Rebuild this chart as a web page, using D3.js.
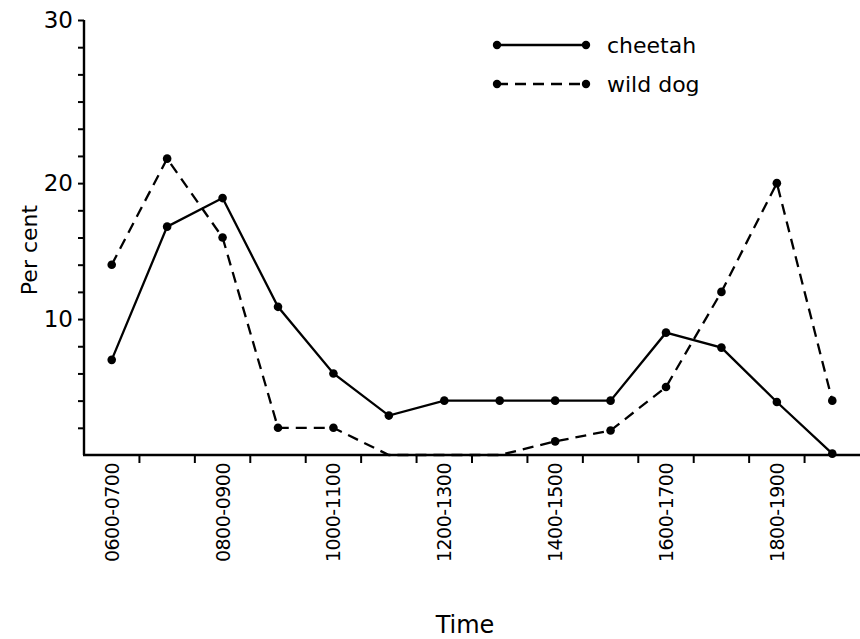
<!DOCTYPE html>
<html>
<head>
<meta charset="utf-8">
<script src="https://cdn.jsdelivr.net/npm/d3@7"></script>
<style>
  body { margin: 0; background: #fff; }
  text { font-family: "DejaVu Sans", sans-serif; fill: #000; }
</style>
</head>
<body>
<div id="graph"></div>
<script>
// Hourly activity, per cent of observations
const times = ["0600-0700", "0700-0800", "0800-0900", "0900-1000", "1000-1100", "1100-1200", "1200-1300",
               "1300-1400", "1400-1500", "1500-1600", "1600-1700", "1700-1800", "1800-1900", "1900-2000"];
const labelled = ["0600-0700", "0800-0900", "1000-1100", "1200-1300", "1400-1500", "1600-1700", "1800-1900"];
const cheetah = [7.0, 16.8, 18.9, 10.9, 6.0, 2.9, 4.0, 4.0, 4.0, 4.0, 9.0, 7.9, 3.9, 0.1];
const wildDog = [14.0, 21.8, 16.0, 2.0, 2.0, 0, 0, 0, 1.0, 1.8, 5.0, 12.0, 20.0, 4.0];
const yTicks = [2, 4, 6, 8, 10, 12, 14, 16, 18, 20, 22, 24, 26, 28, 30, 32];

const width = 860, height = 639;
const margin = {top: 20, right: 0, bottom: 184, left: 84};

let svg = d3.select("#graph")
    .append("svg")
    .attr("width", width)
    .attr("height", height);

let x = d3.scaleBand()
    .domain(times)
    .range([margin.left, width - margin.right]);

let y = d3.scaleLinear()
    .domain([0, 32])
    .range([height - margin.bottom, margin.top]);

let cx = function(d, i) { return x(times[i]) + x.bandwidth() / 2; };

// y axis (top tick carries the "30" label as drawn in the original)
let yAxis = svg.append("g")
    .attr("transform", `translate(${margin.left}, 0)`)
    .call(d3.axisLeft(y)
        .tickValues(yTicks)
        .tickSize(6)
        .tickPadding(5)
        .tickFormat(function(d) { return d === 10 || d === 20 ? d : d === 32 ? "30" : ""; }));
yAxis.select(".domain").attr("d", `M0,${y(0)}V${y(32)}`).attr("stroke-width", 2.4);
yAxis.selectAll("line").attr("stroke-width", 2);
yAxis.selectAll("text").style("font-size", "23px");

// x axis: ticks at the slot boundaries
let xAxis = svg.append("g")
    .attr("transform", `translate(0, ${y(0)})`);
xAxis.append("line")
    .attr("x1", margin.left - 1)
    .attr("x2", width)
    .attr("stroke", "#000")
    .attr("stroke-width", 2.4);
xAxis.selectAll(".tick")
    .data(times.slice(1))
    .enter()
    .append("line")
    .attr("x1", function(d) { return x(d); })
    .attr("x2", function(d) { return x(d); })
    .attr("y1", 0)
    .attr("y2", 8)
    .attr("stroke", "#000")
    .attr("stroke-width", 2);
xAxis.selectAll(".lbl")
    .data(labelled)
    .enter()
    .append("text")
    .attr("transform", function(d) { return `translate(${x(d) + x.bandwidth() / 2 + 7}, 8) rotate(-90)`; })
    .style("text-anchor", "end")
    .style("font-size", "19px")
    .style("letter-spacing", "-0.5px")
    .text(function(d) { return d; });

// axis titles
svg.append("text")
    .attr("transform", `translate(37, 250) rotate(-90)`)
    .style("text-anchor", "middle")
    .style("font-size", "22px")
    .text("Per cent");

svg.append("text")
    .attr("x", 465)
    .attr("y", 633)
    .style("text-anchor", "middle")
    .style("font-size", "24px")
    .text("Time");

// series
let line = d3.line()
    .x(cx)
    .y(function(d) { return y(d); });

let series = [
    {name: "cheetah", values: cheetah, dash: null},
    {name: "wild dog", values: wildDog, dash: "11,7"}
];

series.forEach(function(s) {
    svg.append("path")
        .datum(s.values)
        .attr("fill", "none")
        .attr("stroke", "#000")
        .attr("stroke-width", 2.3)
        .attr("stroke-dasharray", s.dash)
        .attr("d", line);

    svg.append("g")
        .selectAll("circle")
        .data(s.values)
        .enter()
        .append("circle")
        .attr("cx", cx)
        .attr("cy", function(d) { return y(d); })
        .attr("r", 4.3)
        .attr("fill", "#000")
        .attr("display", function(d) { return d > 0 ? null : "none"; });
});

// legend
let legend = svg.append("g").attr("transform", "translate(497, 45)");
series.forEach(function(s, i) {
    let g = legend.append("g").attr("transform", `translate(0, ${i * 39})`);
    g.append("line")
        .attr("x1", 0)
        .attr("x2", 89)
        .attr("stroke", "#000")
        .attr("stroke-width", 2.3)
        .attr("stroke-dasharray", s.dash);
    g.selectAll("circle")
        .data([0, 89])
        .enter()
        .append("circle")
        .attr("cx", function(d) { return d; })
        .attr("r", 4.2)
        .attr("fill", "#000");
    g.append("text")
        .attr("x", 110)
        .attr("y", 8)
        .style("font-size", "22px")
        .text(s.name);
});
</script>
</body>
</html>
